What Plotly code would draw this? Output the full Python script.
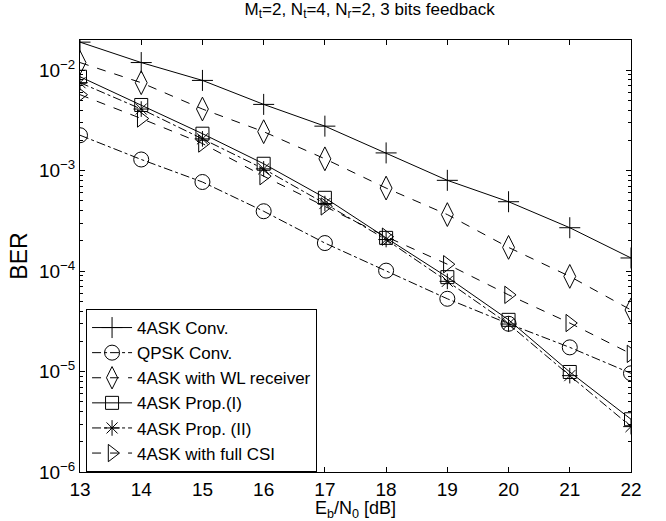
import plotly.graph_objects as go

snr_db = [13, 14, 15, 16, 17, 18, 19, 20, 21, 22]

ber_4ask_conv = [1.9e-2, 1.19e-2, 7.9e-3, 4.56e-3, 2.77e-3, 1.5e-3, 8.0e-4, 4.9e-4, 2.7e-4, 1.35e-4]
ber_qpsk_conv = [2.25e-3, 1.29e-3, 7.7e-4, 3.94e-4, 1.9e-4, 1.01e-4, 5.3e-5, 2.99e-5, 1.74e-5, 9.6e-6]
ber_4ask_wl = [1.19e-2, 7.5e-3, 4.1e-3, 2.44e-3, 1.31e-3, 6.7e-4, 3.65e-4, 1.72e-4, 8.85e-5, 4.1e-5]
ber_prop1 = [8.6e-3, 4.5e-3, 2.33e-3, 1.17e-3, 5.36e-4, 2.14e-4, 8.7e-5, 3.27e-5, 9.9e-6, 3.35e-6]
ber_prop2 = [7.5e-3, 4.1e-3, 2.07e-3, 1.04e-3, 4.7e-4, 2.06e-4, 7.9e-5, 2.97e-5, 9.1e-6, 2.83e-6]
ber_full_csi = [5.7e-3, 3.3e-3, 1.86e-3, 8.8e-4, 4.4e-4, 2.2e-4, 1.17e-4, 5.8e-5, 3.04e-5, 1.5e-5]

ytick_vals = [1e-6, 1e-5, 1e-4, 1e-3, 1e-2]
ytick_text = ["10<sup>−6</sup>", "10<sup>−5</sup>", "10<sup>−4</sup>", "10<sup>−3</sup>", "10<sup>−2</sup>"]

series = [
    ("4ASK Conv.", ber_4ask_conv, "solid", "cross-thin", 15),
    ("QPSK Conv.", ber_qpsk_conv, "dashdot", "circle-open", 15),
    ("4ASK with WL receiver", ber_4ask_wl, "dash", "diamond-tall-open", 17),
    ("4ASK Prop.(I)", ber_prop1, "solid", "square-open", 13),
    ("4ASK Prop. (II)", ber_prop2, "dashdot", "asterisk-open", 13),
    ("4ASK with full CSI", ber_full_csi, "dash", "triangle-right-open", 15),
]

fig = go.Figure()
for name, ber, dash, symbol, size in series:
    fig.add_trace(go.Scatter(
        x=snr_db, y=ber, name=name, mode="lines+markers",
        line=dict(color="black", width=1, dash=dash),
        marker=dict(symbol=symbol, size=size, color="black",
                    line=dict(color="black", width=1)),
    ))

# minor log ticks at 2..9 within each decade
minor_vals = [m * 10.0 ** e for e in range(-6, -1) for m in range(2, 10)]

font = "Liberation Sans, Arial, sans-serif"
fig.update_layout(
    width=666, height=521,
    margin=dict(l=80, r=35, t=40, b=49),
    paper_bgcolor="white", plot_bgcolor="white",
    font=dict(family=font, size=19, color="black"),
    title=dict(text="M<sub>t</sub>=2, N<sub>t</sub>=4, N<sub>r</sub>=2, 3 bits feedback",
               x=0.555, xanchor="center", y=0.995, yanchor="top",
               font=dict(size=17, color="black")),
    showlegend=True,
    legend=dict(x=0.011, y=0.0, xanchor="left", yanchor="bottom",
                bgcolor="white", bordercolor="black", borderwidth=1,
                font=dict(size=17), tracegroupgap=0, itemwidth=40),
)
fig.update_xaxes(
    range=[13, 22], tickvals=snr_db, showgrid=False, zeroline=False,
    showline=True, linecolor="black", linewidth=1, mirror="allticks",
    ticks="inside", ticklen=5, tickcolor="black", automargin=False,
    title=dict(text="E<sub>b</sub>/N<sub>0</sub> [dB]", standoff=3,
               font=dict(size=18)),
    tickfont=dict(size=19),
)
fig.update_yaxes(
    type="log", range=[-6, -1.7], tickvals=ytick_vals, ticktext=ytick_text,
    showgrid=False, zeroline=False,
    showline=True, linecolor="black", linewidth=1, mirror="allticks",
    ticks="inside", ticklen=5, tickcolor="black", automargin=False,
    minor=dict(tickvals=minor_vals, ticks="inside", ticklen=3,
               tickcolor="black", showgrid=False),
    title=dict(text="BER", standoff=4),
    tickfont=dict(size=19),
)

fig.write_html("out.html")
